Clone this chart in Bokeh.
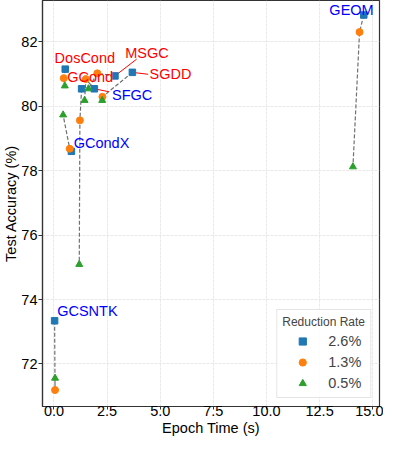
from bokeh.plotting import figure
from bokeh.models import ColumnDataSource, FixedTicker, Range1d, Legend, LegendItem
from bokeh.embed import file_html
from bokeh.resources import INLINE
from bokeh.core.properties import value

# ---- data ----
methods = ["DosCond", "GCond", "MSGC", "SGDD", "SFGC", "GCondX", "GCSNTK", "GEOM"]
method_colors = ["red", "red", "red", "red", "blue", "blue", "blue", "blue"]

rates = ["2.6%", "1.3%", "0.5%"]

time_26 = [0.53, 1.30, 2.87, 3.69, 1.90, 0.82, 0.03, 14.58]
acc_26 = [81.15, 80.54, 80.94, 81.05, 80.54, 78.60, 73.34, 82.83]

time_13 = [0.46, 1.22, 2.04, 2.28, 1.50, 0.74, 0.05, 14.38]
acc_13 = [80.87, 79.56, 81.02, 80.29, 80.84, 78.68, 71.19, 82.30]

time_05 = [0.51, 1.19, 1.62, 2.27, 1.44, 0.43, 0.05, 14.07]
acc_05 = [80.63, 75.09, 80.54, 80.18, 80.18, 79.73, 71.56, 78.12]

# label anchor positions (data units) and connector end points
label_x = [0.03, 0.62, 3.35, 4.50, 2.73, 0.93, 0.15, 12.96]
label_y = [81.50, 80.91, 81.66, 80.99, 80.34, 78.87, 73.64, 82.99]
conn_x = [None, None, 3.89, 4.43, 2.58, None, None, None]
conn_y = [None, None, 81.46, 80.99, 80.45, None, None, None]

x_ticks = [0.0, 2.5, 5.0, 7.5, 10.0, 12.5, 15.0]
x_tick_labels = ["0.0", "2.5", "5.0", "7.5", "10.0", "12.5", "15.0"]
y_ticks = [72, 74, 76, 78, 80, 82]
y_tick_labels = ["72", "74", "76", "78", "80", "82"]
x_title = "Epoch Time (s)"
y_title = "Test Accuracy (%)"

FONT = "Liberation Sans"
C_SQ, C_CI, C_TR = "#1f77b4", "#ff7f0e", "#2ca02c"

p = figure(width=383, height=438, output_backend="svg", toolbar_location=None,
           x_range=Range1d(-0.54, 15.32), y_range=Range1d(70.68, 83.28),
           min_border_top=0, min_border_right=4, min_border_left=0, min_border_bottom=0)

p.outline_line_color = "#333333"
p.outline_line_width = 1.2

for ax in (p.xaxis, p.yaxis):
    ax.axis_line_color = "#333333"
    ax.axis_line_width = 1.2
    ax.major_tick_line_color = "#333333"
    ax.major_tick_in = 0
    ax.minor_tick_line_color = None
    ax.major_label_text_font = FONT
    ax.major_label_text_font_size = "14.5px"
    ax.major_label_text_color = "black"
    ax.axis_label_text_font = FONT
    ax.axis_label_text_font_size = "14.5px"
    ax.axis_label_text_font_style = "normal"
    ax.axis_label_text_color = "black"

p.xaxis.major_tick_out = 3
p.xaxis.major_label_standoff = -4
p.xaxis.axis_label_standoff = 1
p.yaxis.major_tick_out = 4
p.yaxis.major_label_standoff = 1
p.yaxis.axis_label_standoff = -1

p.xaxis.ticker = FixedTicker(ticks=x_ticks)
p.xaxis.major_label_overrides = {t: l for t, l in zip(x_ticks, x_tick_labels)}
p.yaxis.ticker = FixedTicker(ticks=y_ticks)
p.yaxis.major_label_overrides = {t: l for t, l in zip(y_ticks, y_tick_labels)}
p.xaxis.axis_label = x_title
p.yaxis.axis_label = y_title

p.xgrid.ticker = FixedTicker(ticks=x_ticks)
p.ygrid.ticker = FixedTicker(ticks=y_ticks)
for g in (p.xgrid, p.ygrid):
    g.grid_line_color = "#e3e3e3"
    g.grid_line_dash = "3 1"
    g.grid_line_width = 0.8

# dashed lines per method
for i in range(len(methods)):
    p.line([time_26[i], time_13[i], time_05[i]], [acc_26[i], acc_13[i], acc_05[i]],
           line_color="#707070", line_dash="4 2", line_width=1.2)

# connectors
for i in range(len(methods)):
    if conn_x[i] is not None:
        p.line([time_26[i], conn_x[i]], [acc_26[i], conn_y[i]], line_color="red", line_width=1)

r26 = p.scatter(time_26, acc_26, marker="square", size=6.5, fill_color=C_SQ, line_color=C_SQ)
r13 = p.scatter(time_13, acc_13, marker="circle", size=7, fill_color=C_CI, line_color=C_CI)
r05 = p.scatter(time_05, acc_05, marker="triangle", size=7, fill_color=C_TR, line_color=C_TR)

src = ColumnDataSource(dict(x=label_x, y=label_y, t=methods, c=method_colors))
p.text(x="x", y="y", text="t", text_color="c", source=src,
       text_font=value(FONT), text_font_size="14.5px",
       text_align="left", text_baseline="middle")

legend = Legend(items=[LegendItem(label=rates[0], renderers=[r26]),
                       LegendItem(label=rates[1], renderers=[r13]),
                       LegendItem(label=rates[2], renderers=[r05])],
                location="bottom_right", margin=8, padding=5,
                title="Reduction Rate", title_text_font=FONT, title_text_font_size="12px",
                title_text_font_style="normal", title_standoff=3,
                label_text_font=FONT, label_text_font_size="14.5px",
                glyph_width=40, glyph_height=18, label_height=18, label_standoff=6, spacing=3,
                border_line_color="#cccccc", border_line_width=1,
                background_fill_color="white", background_fill_alpha=0.85)
p.add_layout(legend)

open("out.html", "w").write(file_html(p, INLINE))
